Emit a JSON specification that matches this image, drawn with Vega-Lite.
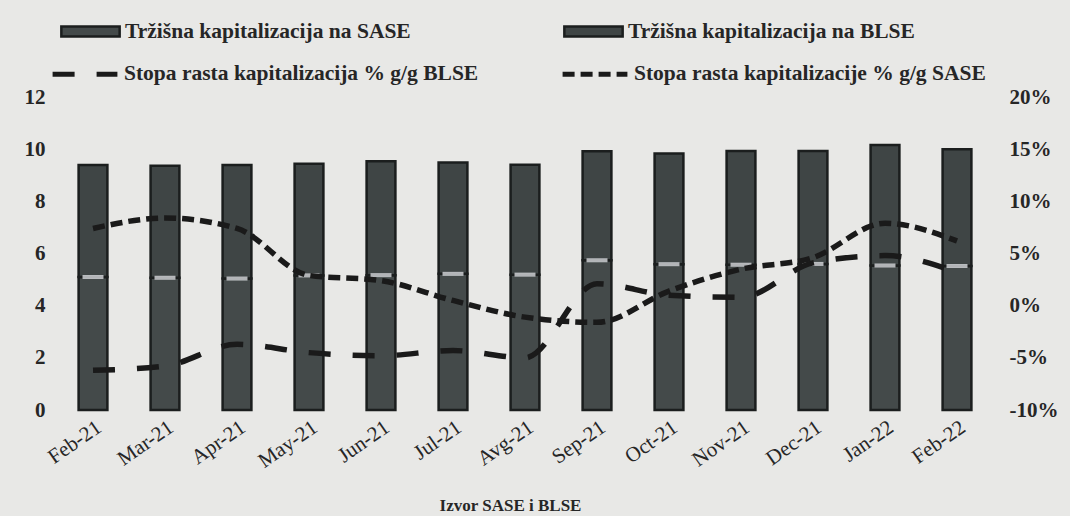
{
  "$schema": "https://vega.github.io/schema/vega-lite/v6.json",
  "width": 936,
  "height": 313,
  "autosize": "none",
  "padding": {"left": 57, "top": 97, "right": 77, "bottom": 106},
  "background": "#e8e8e6",
  "config": {
    "view": {"stroke": null},
    "font": "Liberation Serif",
    "axis": {"domain": false, "ticks": false, "grid": false, "labelFont": "Liberation Serif", "labelFontWeight": "bold", "labelColor": "#262626"},
    "legend": {"labelFont": "Liberation Serif", "labelFontWeight": "bold", "labelFontSize": 21.5, "labelColor": "#262626"}
  },
  "data": {
    "values": [
      {"month": "Feb-21", "SASE": 5.10, "BLSE": 4.29, "gSASE": 7.4, "gBLSE": -6.2},
      {"month": "Mar-21", "SASE": 5.07, "BLSE": 4.29, "gSASE": 8.4, "gBLSE": -5.8},
      {"month": "Apr-21", "SASE": 5.04, "BLSE": 4.35, "gSASE": 7.4, "gBLSE": -3.7},
      {"month": "May-21", "SASE": 5.16, "BLSE": 4.28, "gSASE": 2.9, "gBLSE": -4.5},
      {"month": "Jun-21", "SASE": 5.17, "BLSE": 4.37, "gSASE": 2.4, "gBLSE": -4.8},
      {"month": "Jul-21", "SASE": 5.22, "BLSE": 4.27, "gSASE": 0.5, "gBLSE": -4.3},
      {"month": "Avg-21", "SASE": 5.19, "BLSE": 4.21, "gSASE": -1.1, "gBLSE": -5.0},
      {"month": "Sep-21", "SASE": 5.74, "BLSE": 4.18, "gSASE": -1.6, "gBLSE": 2.1},
      {"month": "Oct-21", "SASE": 5.59, "BLSE": 4.24, "gSASE": 1.4, "gBLSE": 1.0},
      {"month": "Nov-21", "SASE": 5.57, "BLSE": 4.36, "gSASE": 3.5, "gBLSE": 0.8},
      {"month": "Dec-21", "SASE": 5.60, "BLSE": 4.33, "gSASE": 4.6, "gBLSE": 4.1},
      {"month": "Jan-22", "SASE": 5.54, "BLSE": 4.62, "gSASE": 7.9, "gBLSE": 4.8},
      {"month": "Feb-22", "SASE": 5.52, "BLSE": 4.48, "gSASE": 6.2, "gBLSE": 3.2}
    ]
  },
  "encoding": {
    "x": {
      "field": "month", "type": "nominal", "sort": null,
      "scale": {"paddingInner": 0.6, "paddingOuter": 0.3},
      "axis": {
        "labelAngle": -35, "labelFontSize": 21, "labelFontWeight": "normal", "labelPadding": 6,
        "title": "Izvor SASE i BLSE", "titleFontSize": 17, "titleFontWeight": "bold",
        "titleFont": "Liberation Serif", "titleColor": "#262626", "titlePadding": 26, "titleX": 453
      }
    }
  },
  "layer": [
    {
      "layer": [
        {
          "transform": [{"fold": ["SASE", "BLSE"], "as": ["series", "value"]}],
          "mark": {"type": "bar", "stroke": "#1b1e1e", "strokeWidth": 2.5},
          "encoding": {
            "y": {
              "field": "value", "type": "quantitative", "stack": "zero",
              "scale": {"domain": [0, 12]},
              "axis": {"values": [0, 2, 4, 6, 8, 10, 12], "labelFontSize": 21, "labelPadding": 12, "title": null}
            },
            "fill": {
              "field": "series", "type": "nominal",
              "scale": {"domain": ["SASE", "BLSE"], "range": ["#444a4a", "#3f4545"]},
              "legend": {
                "orient": "none", "legendX": 3, "legendY": -96, "direction": "horizontal", "columns": 2,
                "title": null, "symbolType": "M-1,-0.17H1V0.17H-1Z", "symbolSize": 3400,
                "symbolStrokeColor": "#1b1e1e", "symbolStrokeWidth": 2.5, "labelOffset": 4,
                "columnPadding": 148, "labelLimit": 400,
                "labelExpr": "'Tržišna kapitalizacija na ' + datum.label"
              }
            },
            "order": {"field": "series", "sort": "descending"}
          }
        },
        {
          "mark": {"type": "tick", "color": "#f2f3f8", "thickness": 4, "size": 21},
          "encoding": {
            "y": {
              "field": "SASE", "type": "quantitative", "scale": {"domain": [0, 12]},
              "axis": {"values": [0, 2, 4, 6, 8, 10, 12], "labelFontSize": 21, "labelPadding": 12, "title": null}
            }
          }
        }
      ]
    },
    {
      "transform": [{"fold": ["gBLSE", "gSASE"], "as": ["line", "pct"]}],
      "mark": {"type": "line", "interpolate": "monotone", "color": "#1a1a1a", "strokeWidth": 5.5},
      "encoding": {
        "y": {
          "field": "pct", "type": "quantitative",
          "scale": {"domain": [-10, 20]},
          "axis": {"orient": "right", "values": [-10, -5, 0, 5, 10, 15, 20], "labelExpr": "datum.value + '%'", "labelFontSize": 21, "labelPadding": 16, "title": null}
        },
        "strokeDash": {
          "field": "line", "type": "nominal",
          "scale": {"domain": ["gBLSE", "gSASE"], "range": [[22, 22], [12, 6]]},
          "legend": {
            "orient": "none", "legendX": -7, "legendY": -58, "direction": "horizontal", "columns": 2,
            "title": null, "symbolType": "stroke", "symbolSize": 4200, "symbolStrokeWidth": 5,
            "symbolStrokeColor": "#1a1a1a", "labelOffset": 4, "columnPadding": 73, "labelLimit": 450,
            "labelExpr": "datum.label == 'gBLSE' ? 'Stopa rasta kapitalizacija % g/g BLSE' : 'Stopa rasta kapitalizacije % g/g SASE'"
          }
        }
      }
    }
  ],
  "resolve": {"scale": {"y": "independent"}}
}
